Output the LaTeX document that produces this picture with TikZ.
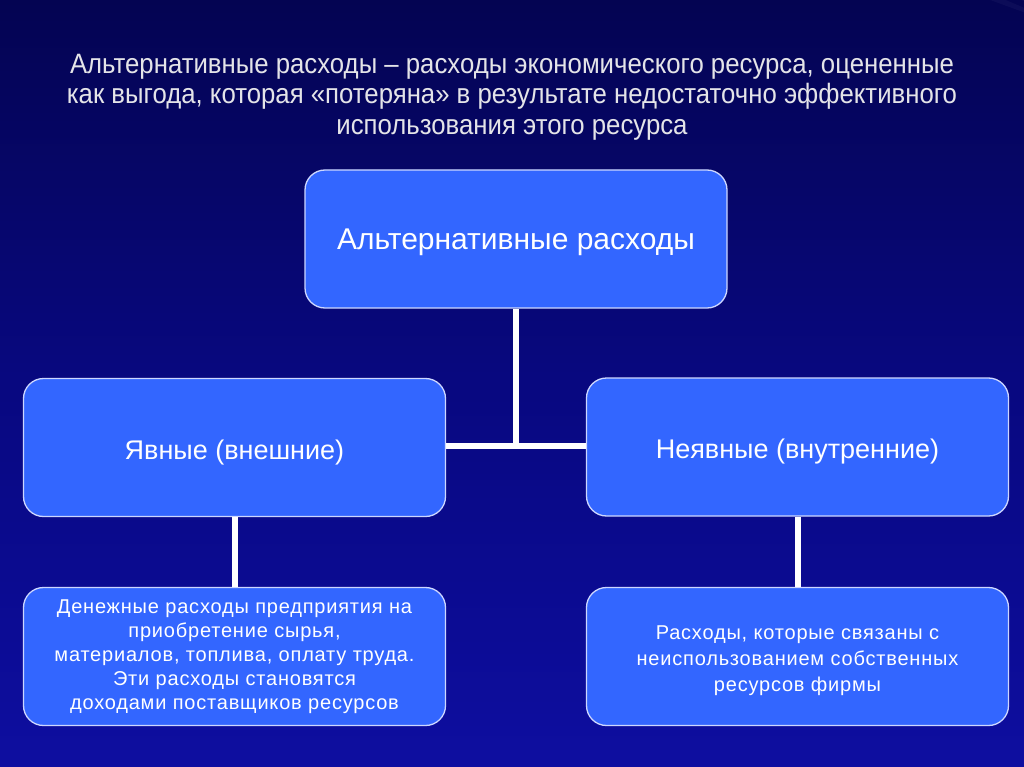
\documentclass[tikz,border=0pt]{standalone}
\usepackage{fontspec}
\setmainfont{Liberation Sans}
\newfontfamily\narrowfont[FakeStretch=0.92]{Liberation Sans}
\newfontfamily\spacedfont[LetterSpace=4]{Liberation Sans}
\definecolor{bgdark}{RGB}{4,4,82}
\definecolor{bgmid}{RGB}{8,8,128}
\definecolor{bglight}{RGB}{14,14,160}
\definecolor{boxblue}{RGB}{51,102,255}
\definecolor{boxedge}{RGB}{205,215,255}
\definecolor{titlegray}{RGB}{228,228,232}
\tikzset{
  cbox/.style={draw=boxedge, line width=1.3pt, fill=boxblue, rounded corners=20pt,
    minimum width=422pt, minimum height=138pt, text=white, align=center, inner sep=0pt},
  link/.style={draw=white, line width=6pt},
  ray/.style={fill=white, opacity=0.035}
}
\begin{document}
\begin{tikzpicture}[x=1pt,y=-1pt]
\useasboundingbox (0,0) rectangle (1024,767);
\shade[top color=bgdark, bottom color=bglight, middle color=bgmid] (0,0) rectangle (1024,767);
\begin{scope}
\clip (0,0) rectangle (1024,767);
\foreach \a/\b in {200/203, 207/210, 214/218, 223/226, 231/235, 240/243, 248/252}{
  \fill[ray] (1100,40) -- ++(\a:1500) arc[start angle=\a, end angle=\b, radius=1500] -- cycle;
}
\end{scope}
\node[text=titlegray, align=center, font=\narrowfont\fontsize{28}{30.5}\selectfont] (title) at (512,97)
  {Альтернативные расходы – расходы экономического ресурса, оцененные\\
   как выгода, которая «потеряна» в результате недостаточно эффективного\\
   использования этого ресурса};
\node[cbox, font=\fontsize{30}{34}\selectfont] (top) at (516,239) {\rule{0pt}{27pt}Альтернативные расходы};
\node[cbox, font=\fontsize{27}{30}\selectfont] (left) at (234.5,447.5) {\rule{0pt}{29pt}Явные (внешние)};
\node[cbox, font=\fontsize{27}{30}\selectfont] (right) at (797.5,447) {\rule{0pt}{29pt}Неявные (внутренние)};
\node[cbox, font=\spacedfont\fontsize{20}{24}\selectfont] (bl) at (234.5,656.5)
  {Денежные расходы предприятия на\\ приобретение сырья,\\ материалов, топлива, оплату труда.\\ Эти расходы становятся\\ доходами поставщиков ресурсов};
\node[cbox, font=\spacedfont\fontsize{20}{26}\selectfont] (br) at (797.5,656.5)
  {\rule{0pt}{23pt}Расходы, которые связаны с\\ неиспользованием собственных\\ ресурсов фирмы};
\coordinate (jn) at (516,446);
\draw[link] (left.east |- jn) -- (right.west |- jn);
\draw[link] (top.south) -- (jn);
\draw[link] (left.south) -- (bl.north);
\draw[link] (right.south) -- (br.north);
\end{tikzpicture}
\end{document}
